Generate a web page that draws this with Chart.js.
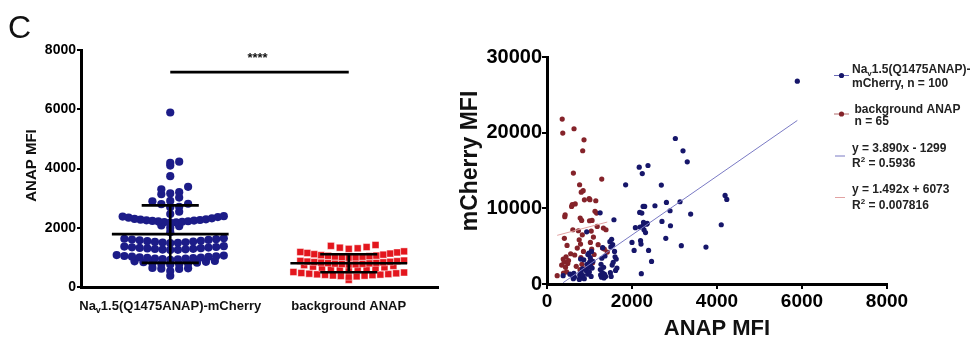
<!DOCTYPE html>
<html><head><meta charset="utf-8">
<script src="https://cdn.jsdelivr.net/npm/chart.js@4/dist/chart.umd.min.js"></script>
<style>
html,body{margin:0;padding:0;background:#fff;}
#wrap{position:relative;width:972px;height:341px;overflow:hidden;background:#fff;}
#left{position:absolute;left:0;top:0;width:450px;height:341px;}
#right{position:absolute;left:450px;top:0;width:522px;height:341px;}
</style></head><body>
<div id="wrap">
<div id="left"><canvas id="c1"></canvas></div>
<div id="right"><canvas id="c2"></canvas></div>
</div>
<script>
// ---------- data ----------
const panelLetter = 'C';
const categories = ['Na_{v}1.5(Q1475ANAP)-mCherry', 'background ANAP'];
const leftYTicks = [0, 2000, 4000, 6000, 8000];
const leftYTitle = 'ANAP MFI';
const sigLabel = '****';

const navAnap = [380,
 540,610,620,630,645,
 760,772,779,791,803,818,836,849,866,878,
 918,934,941,957,962,978,985,996,1003,1017,1024,1038,1046,1062,1079,
 1250,1255,1262,1271,1283,1290,1302,1311,1319,1332,1340,1351,1364,1378,
 1480,1491,1502,1509,1521,1533,1546,1558,1575,1589,1601,1614,1629,1645,
 1850,
 2000,2050,2080,
 2170,2181,2189,2201,2212,2219,2231,2242,2249,2262,2271,2283,2298,2318,2341,2359,2376,2390,
 2460,2540,
 2690,2705,2795,2810,
 2895,2905,3020,3130,
 3160,3200,3300,3380,
 3740,4100,4190,4230,5890];
const navMcherry = [1100,
 1300,1000,700,1400,900,
 600,1200,900,3300,1500,800,2000,1100,3200,700,
 1800,6900,2600,1300,3900,2200,4100,1600,2900,3500,2400,1000,4300,2100,3000,
 9400,1900,1200,2600,900,3400,1500,4800,1100,2200,800,1300,3700,1000,
 5600,1500,4900,1000,5900,2500,5200,2860,8490,4300,3600,1800,3300,2100,
 13110,
 5500,4440,7440,
 15440,9460,7520,5720,5280,1360,9370,14600,7610,10250,8140,7170,10250,6800,7900,8000,15660,4440,
 2990,10340,
 13070,8270,6030,10780,
 9680,7700,19230,10870,
 5060,17600,16150,9240,
 4880,7830,11700,11180,26800];

const bgAnap = [240,
 345,358,371,382,388,401,409,418,427,436,448,461,472,489,506,
 557,579,594,608,621,636,652,664,688,712,738,
 758,767,776,781,789,798,806,815,822,831,840,851,858,871,880,893,
 992,1001,1009,1021,1030,1041,1052,1060,1074,1092,1108,1129,1148,1166,1181,1203,
 1288,1306,1327,1349,1388,1418];
const bgMcherry = [1100,
 2500,21800,19950,3300,1450,2900,6030,8900,9150,2200,3600,1600,5100,2700,3100,
 4000,10250,10480,7170,14660,20520,3830,10580,2330,4750,7040,
 5850,13120,1890,8710,5280,3500,12140,8400,2600,6500,17610,12330,4300,19060,11130,2000,
 11270,8360,11140,5500,3200,7000,4600,8400,2800,6200,3900,9600,11000,9370,7610,5200,
 13870,4750,7390,4620,7170,4220];

const rightXTicks = [0, 2000, 4000, 6000, 8000];
const rightYTicks = [0, 10000, 20000, 30000];
const rightXTitle = 'ANAP MFI';
const rightYTitle = 'mCherry MFI';
const fitSlope = [3.890, 1.492];
const fitIntercept = [-1299, 6073];
const legendLabels = [
  ['Na_{v}1.5(Q1475ANAP)-', 'mCherry, n = 100'],
  ['background ANAP', 'n = 65'],
  ['y = 3.890x - 1299', 'R^{2} = 0.5936'],
  ['y = 1.492x + 6073', 'R^{2} = 0.007816']
];

// ---------- styles ----------
const FAMILY = '"Liberation Sans", Arial, Helvetica, sans-serif';
const NAVY_L = '#1c1c88', RED_L = '#e3161d';
const NAVY_R = '#16166a', RED_R = '#85232a';
const FIT_COL = ['#7a7ac4', '#e2a2a2'];

Chart.defaults.font.family = FAMILY;

// row layout: bin values, spread each row outwards from the centre,
// spacing shrinks when a row would exceed the allowed half-width
function swarm(values, center, binW, binOff, stepMax, maxHalf) {
  const bins = new Map();
  values.forEach(v => {
    const k = Math.floor((v - binOff) / binW);
    if (!bins.has(k)) bins.set(k, []);
    bins.get(k).push(v);
  });
  const pts = [];
  for (const arr of bins.values()) {
    arr.sort((a, b) => a - b);
    const maxCol = Math.max(1, Math.ceil((arr.length - 1) / 2));
    const step = Math.min(stepMax, maxHalf / maxCol);
    arr.forEach((v, i) => {
      const col = i === 0 ? 0 : (i % 2 === 1 ? (i + 1) / 2 : -i / 2);
      pts.push({ x: center + col * step, y: v });
    });
  }
  return pts;
}

function drawRich(ctx, str, x, y, size, weight, align, color) {
  const parts = [];
  const re = /([_^])\{([^}]*)\}/g; let last = 0, m;
  while ((m = re.exec(str))) {
    if (m.index > last) parts.push({ t: str.slice(last, m.index), k: '' });
    parts.push({ t: m[2], k: m[1] });
    last = re.lastIndex;
  }
  if (last < str.length) parts.push({ t: str.slice(last), k: '' });
  const fontOf = k => `${weight} ${k ? Math.round(size * 0.68) : size}px ${FAMILY}`;
  let total = 0;
  parts.forEach(p => { ctx.font = fontOf(p.k); p.w = ctx.measureText(p.t).width; total += p.w; });
  let cx = align === 'center' ? x - total / 2 : x;
  ctx.textAlign = 'left'; ctx.textBaseline = 'middle'; ctx.fillStyle = color;
  parts.forEach(p => {
    ctx.font = fontOf(p.k);
    const dy = p.k === '_' ? size * 0.32 : (p.k === '^' ? -size * 0.33 : 0);
    ctx.fillText(p.t, cx, y + dy);
    cx += p.w;
  });
}

function stats(vals) {
  const n = vals.length, mean = vals.reduce((a, b) => a + b, 0) / n;
  const sd = Math.sqrt(vals.reduce((a, b) => a + (b - mean) ** 2, 0) / (n - 1));
  return { mean, sd };
}

// ---------- left chart ----------
const leftDecor = {
  id: 'leftDecor',
  afterDatasetsDraw(chart) {
    const { ctx, scales: { x, y }, chartArea } = chart;
    ctx.save();
    ctx.strokeStyle = '#000'; ctx.lineWidth = 2.6; ctx.lineCap = 'butt';
    [navAnap, bgAnap].forEach((vals, i) => {
      const { mean, sd } = stats(vals);
      const c = i + 1;
      const px = x.getPixelForValue(c);
      const mh = x.getPixelForValue(c + 0.327) - px;
      const ch = x.getPixelForValue(c + 0.16) - px;
      const yM = y.getPixelForValue(mean), yT = y.getPixelForValue(mean + sd), yB = y.getPixelForValue(mean - sd);
      ctx.beginPath();
      ctx.moveTo(px - mh, yM); ctx.lineTo(px + mh, yM);
      ctx.moveTo(px - ch, yT); ctx.lineTo(px + ch, yT);
      ctx.moveTo(px - ch, yB); ctx.lineTo(px + ch, yB);
      ctx.moveTo(px, yT); ctx.lineTo(px, yB);
      ctx.stroke();
    });
    // significance bar
    const x1 = x.getPixelForValue(1), x2 = x.getPixelForValue(2);
    const yb = y.getPixelForValue(7250);
    ctx.lineWidth = 2.8;
    ctx.beginPath(); ctx.moveTo(x1, yb); ctx.lineTo(x2, yb); ctx.stroke();
    ctx.fillStyle = '#111'; ctx.font = `bold 13px ${FAMILY}`;
    ctx.textAlign = 'center'; ctx.textBaseline = 'middle';
    ctx.fillText(sigLabel, (x1 + x2) / 2 - 2, y.getPixelForValue(7700));
    // category labels
    categories.forEach((lab, i) => {
      drawRich(ctx, lab, x.getPixelForValue(i + 1), chartArea.bottom + 19, 13, 'bold', 'center', '#111');
    });
    // y title
    ctx.save();
    ctx.translate(32, (chartArea.top + chartArea.bottom) / 2 - 3);
    ctx.rotate(-Math.PI / 2);
    ctx.font = `bold 15px ${FAMILY}`; ctx.fillStyle = '#111';
    ctx.textAlign = 'center'; ctx.textBaseline = 'middle';
    ctx.fillText(leftYTitle, 0, 0);
    ctx.restore();
    // panel letter
    ctx.font = `32px ${FAMILY}`; ctx.fillStyle = '#111';
    ctx.textAlign = 'left'; ctx.textBaseline = 'alphabetic';
    ctx.fillText(panelLetter, 8, 38);
    ctx.restore();
  }
};

new Chart(document.getElementById('c1'), {
  type: 'scatter',
  data: {
    datasets: [
      { data: swarm(navAnap, 1, 250, 150, 0.05, 0.30), pointStyle: 'circle', pointRadius: 4.1,
        backgroundColor: NAVY_L, borderColor: NAVY_L, borderWidth: 0, order: 2 },
      { data: swarm(bgAnap, 2, 230, 60, 0.05, 0.31), pointStyle: 'rect', pointRadius: 4.9,
        backgroundColor: RED_L, borderColor: 'rgba(255,255,255,0.7)', borderWidth: 0.6, order: 1 }
    ]
  },
  options: {
    responsive: true, maintainAspectRatio: false, animation: false, devicePixelRatio: 1,
    events: [],
    plugins: { legend: { display: false }, tooltip: { enabled: false } },
    layout: { padding: { top: 50, right: 12, left: 0, bottom: 0 } },
    scales: {
      x: {
        type: 'linear', min: 0.5, max: 2.5,
        grid: { display: false },
        border: { display: true, color: '#000', width: 3 },
        ticks: { display: false },
        afterFit: s => { s.height = 54; }
      },
      y: {
        min: 0, max: 8000,
        afterBuildTicks: s => { s.ticks = leftYTicks.map(v => ({ value: v })); },
        ticks: { color: '#000', font: { size: 14, weight: 'bold' }, padding: 1, callback: v => String(v) },
        grid: { display: true, drawOnChartArea: false, tickLength: 4, color: '#000', lineWidth: 2 },
        border: { display: true, color: '#000', width: 3 },
        afterFit: s => { s.width = 81; }
      }
    }
  },
  plugins: [leftDecor]
});

// ---------- right chart ----------
function fitLine(i, xs) {
  const lo = Math.min(...xs), hi = Math.max(...xs);
  return [lo, hi].map(v => ({ x: v, y: fitSlope[i] * v + fitIntercept[i] }));
}

const rightDecor = {
  id: 'rightDecor',
  afterDraw(chart) {
    const { ctx, chartArea } = chart;
    ctx.save();
    ctx.fillStyle = '#111';
    ctx.font = `bold 22px ${FAMILY}`;
    ctx.textAlign = 'center'; ctx.textBaseline = 'middle';
    ctx.fillText(rightXTitle, (chartArea.left + chartArea.right) / 2, 329);
    ctx.save();
    ctx.translate(21, 161);
    ctx.rotate(-Math.PI / 2);
    ctx.font = `bold 23px ${FAMILY}`;
    ctx.fillText(rightYTitle, 0, 0);
    ctx.restore();
    // legend
    const ox = 450;
    const rows = [[69.5, 84, 75.5], [109.3, 121.5, 114], [148.5, 164, 156], [190, 205.5, 197.5]];
    const textX = [852, 854.5, 852, 852];
    rows.forEach((r, i) => {
      const tx = textX[i] - ox;
      drawRich(ctx, legendLabels[i][0], tx, r[0], 12, 'bold', 'left', '#222');
      drawRich(ctx, legendLabels[i][1], tx, r[1], 12, 'bold', 'left', '#222');
      if (i < 2) {
        const col = i === 0 ? NAVY_R : RED_R;
        ctx.strokeStyle = i === 0 ? '#6a6ab8' : '#b06a6a'; ctx.lineWidth = 1;
        ctx.beginPath(); ctx.moveTo(834 - ox, r[2]); ctx.lineTo(849 - ox, r[2]); ctx.stroke();
        ctx.fillStyle = col;
        ctx.beginPath(); ctx.arc(841.5 - ox, r[2], 2.6, 0, Math.PI * 2); ctx.fill();
      } else {
        ctx.strokeStyle = FIT_COL[i - 2]; ctx.lineWidth = 1;
        ctx.beginPath(); ctx.moveTo(835 - ox, r[2]); ctx.lineTo(845 - ox, r[2]); ctx.stroke();
      }
    });
    ctx.restore();
  }
};

new Chart(document.getElementById('c2'), {
  type: 'scatter',
  data: {
    datasets: [
      { data: navAnap.map((v, i) => ({ x: v, y: navMcherry[i] })), pointRadius: 2.6,
        backgroundColor: NAVY_R, borderWidth: 0, order: 2 },
      { data: bgAnap.map((v, i) => ({ x: v, y: bgMcherry[i] })), pointRadius: 2.6,
        backgroundColor: RED_R, borderWidth: 0, order: 3 },
      { data: fitLine(0, navAnap), showLine: true, pointRadius: 0, borderColor: FIT_COL[0], borderWidth: 1, order: 0 },
      { data: fitLine(1, bgAnap), showLine: true, pointRadius: 0, borderColor: FIT_COL[1], borderWidth: 1, order: 1 }
    ]
  },
  options: {
    responsive: true, maintainAspectRatio: false, animation: false, devicePixelRatio: 1,
    events: [],
    plugins: { legend: { display: false }, tooltip: { enabled: false } },
    layout: { padding: { top: 57, right: 85, left: 0, bottom: 0 } },
    scales: {
      x: {
        type: 'linear', min: 0, max: 8000,
        afterBuildTicks: s => { s.ticks = rightXTicks.map(v => ({ value: v })); },
        ticks: { color: '#000', font: { size: 19, weight: 'bold' }, padding: 1, maxRotation: 0, callback: v => String(v) },
        grid: { display: true, drawOnChartArea: false, tickLength: 5, color: '#000', lineWidth: 2 },
        border: { display: true, color: '#000', width: 3 },
        afterFit: s => { s.height = 57; }
      },
      y: {
        min: 0, max: 30000,
        afterBuildTicks: s => { s.ticks = rightYTicks.map(v => ({ value: v })); },
        ticks: { color: '#000', font: { size: 20, weight: 'bold' }, padding: 0, callback: v => String(v) },
        grid: { display: true, drawOnChartArea: false, tickLength: 5, color: '#000', lineWidth: 2 },
        border: { display: true, color: '#000', width: 3 },
        afterFit: s => { s.width = 97; }
      }
    }
  },
  plugins: [rightDecor]
});
</script>
</body></html>
